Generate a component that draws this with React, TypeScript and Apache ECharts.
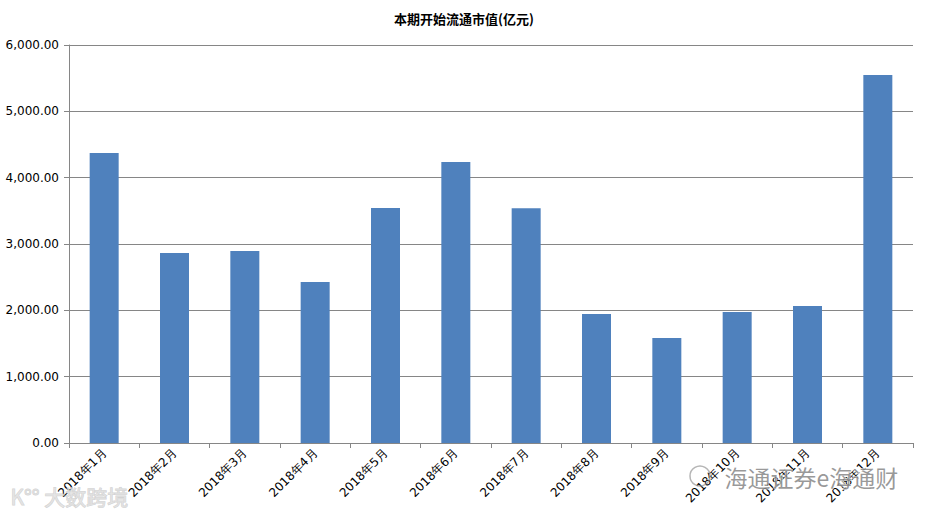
import React, { useEffect, useRef } from "react";
import * as echarts from "echarts";

const categories = [
  "2018年1月", "2018年2月", "2018年3月", "2018年4月", "2018年5月", "2018年6月",
  "2018年7月", "2018年8月", "2018年9月", "2018年10月", "2018年11月", "2018年12月",
];
const values = [4370, 2865, 2895, 2427, 3543, 4236, 3540, 1945, 1583, 1975, 2065, 5548];
const titleText = "本期开始流通市值(亿元)";
const watermarkMain = "海通证券e海通财";
const watermarkSide = "大数跨境";

export default function App() {
  const ref = useRef<HTMLDivElement>(null);
  useEffect(() => {
    if (!ref.current) return;
    const chart = echarts.init(ref.current, null, { renderer: "svg" });
    chart.setOption({
      animation: false,
      backgroundColor: "#ffffff",
      title: {
        text: titleText,
        left: "center",
        top: 7,
        textStyle: { fontSize: 13, fontWeight: "bold", color: "#000", fontFamily: "Noto Sans CJK SC" },
      },
      grid: { left: 69, right: 15, top: 45, bottom: 77, containLabel: false },
      xAxis: {
        type: "category",
        data: categories,
        boundaryGap: true,
        axisLine: { lineStyle: { color: "#868686", width: 1 } },
        axisTick: { show: true, alignWithLabel: false, length: 5, lineStyle: { color: "#868686" } },
        axisLabel: {
          rotate: 45,
          interval: 0,
          fontSize: 12,
          color: "#000",
          margin: 8,
          fontFamily: "DejaVu Sans",
        },
      },
      yAxis: {
        type: "value",
        min: 0,
        max: 6000,
        interval: 1000,
        axisLine: { show: true, lineStyle: { color: "#868686", width: 1 } },
        axisTick: { show: true, length: 5, lineStyle: { color: "#868686" } },
        splitLine: { show: true, lineStyle: { color: "#868686", width: 1 } },
        axisLabel: {
          fontSize: 12,
          color: "#000",
          margin: 10,
          fontFamily: "DejaVu Sans",
          formatter: (v: number) =>
            v.toLocaleString("en-US", { minimumFractionDigits: 2, maximumFractionDigits: 2 }),
        },
      },
      series: [
        {
          type: "bar",
          data: values,
          barWidth: 29,
          itemStyle: { color: "#4F81BD" },
        },
      ],
      graphic: [
        {
          type: "text",
          left: 724,
          top: 465,
          z: 100,
          style: {
            text: watermarkMain,
            fontSize: 23,
            fill: "rgba(120,120,120,0.75)",
            stroke: "rgba(255,255,255,0.8)",
            lineWidth: 1,
            fontFamily: "Noto Sans CJK SC",
          },
        },
        {
          type: "circle",
          shape: { cx: 700, cy: 476, r: 10 },
          z: 100,
          style: { fill: "none", stroke: "rgba(150,150,150,0.7)", lineWidth: 1.5 },
        },
        {
          type: "text",
          left: 10,
          top: 485,
          z: 100,
          style: {
            text: "K°° " + watermarkSide,
            fontSize: 21,
            fill: "rgba(225,225,225,0.8)",
            stroke: "rgba(180,180,180,0.6)",
            lineWidth: 1,
            fontFamily: "Noto Sans CJK SC",
          },
        },
      ],
    });
    return () => chart.dispose();
  }, []);
  return (
    <div
      ref={ref}
      style={{ position: "absolute", left: 0, top: 0, width: 928, height: 520 }}
    />
  );
}
